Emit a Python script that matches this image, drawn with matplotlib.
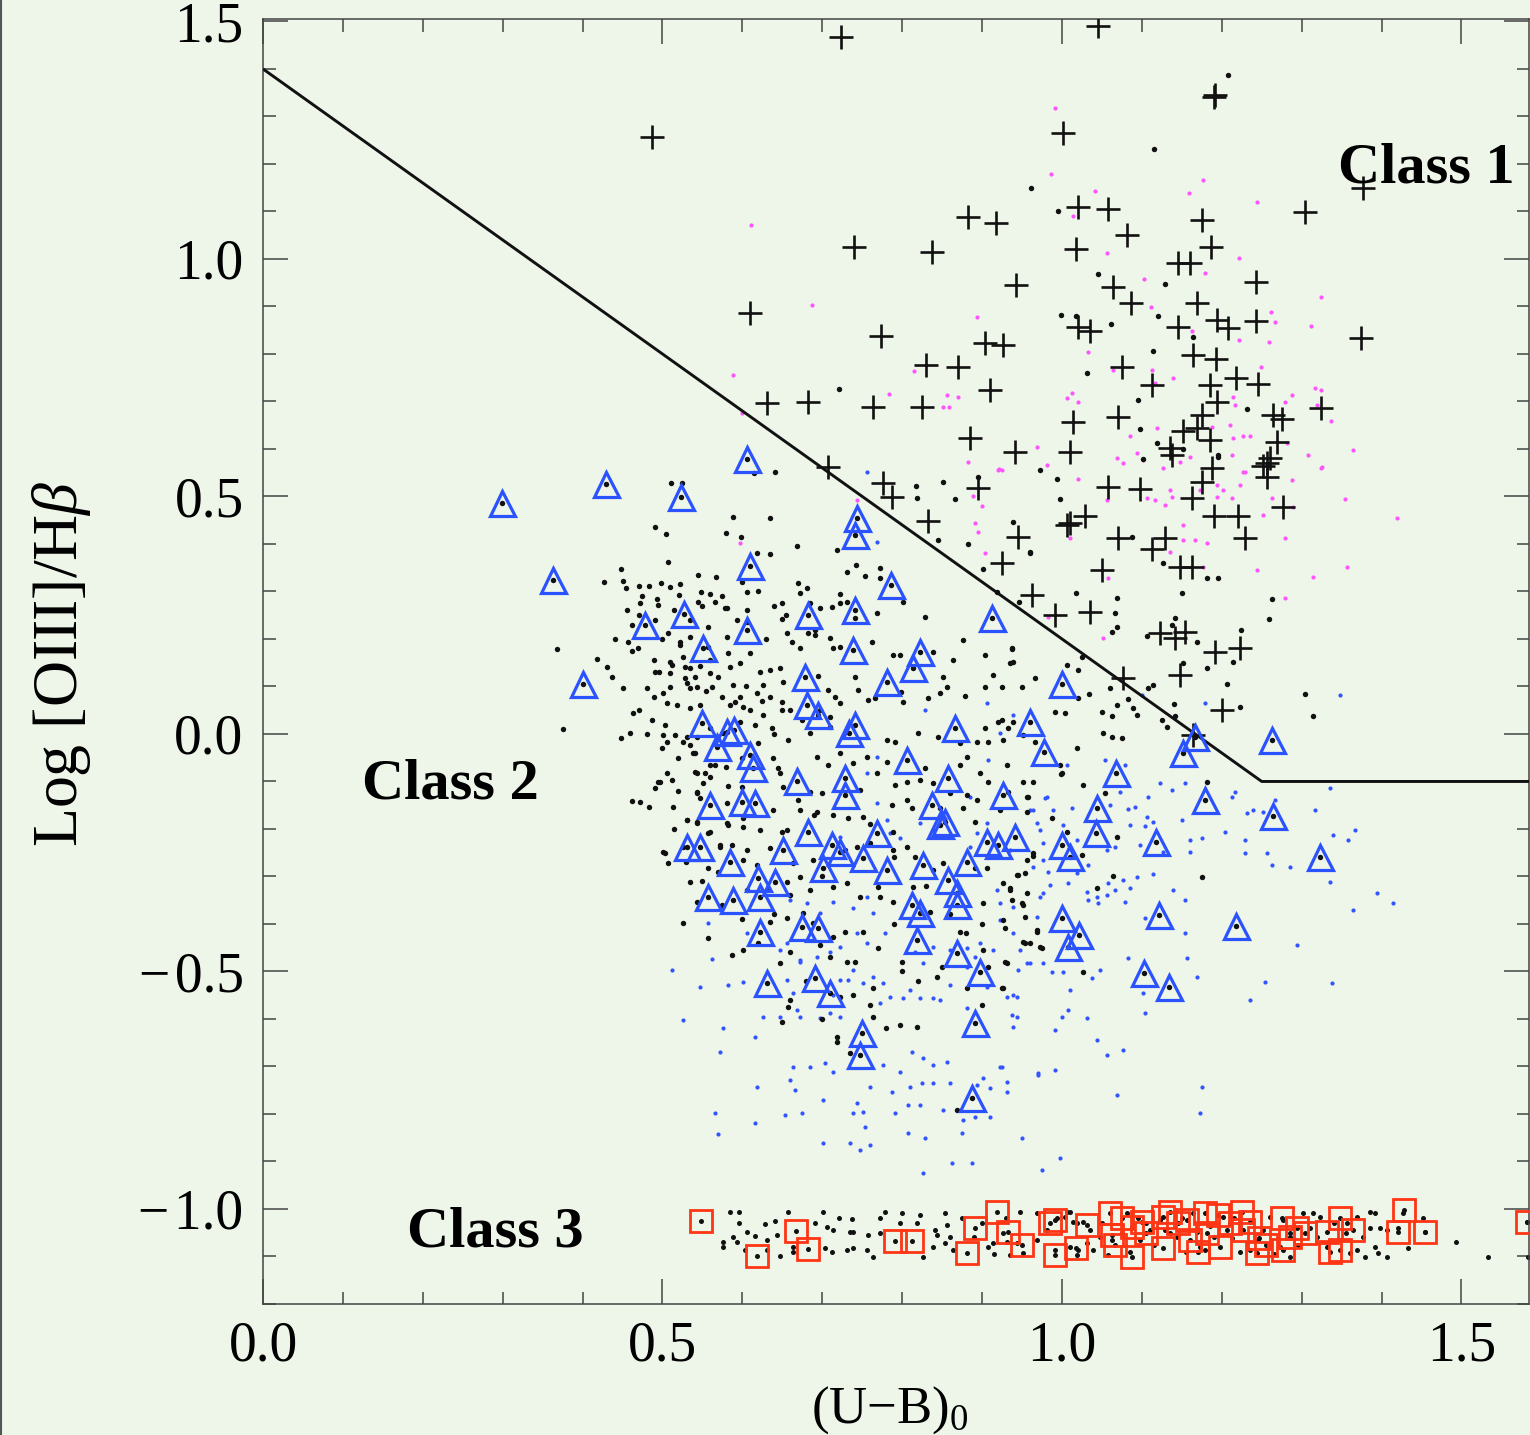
import matplotlib
matplotlib.use('Agg')
import matplotlib.pyplot as plt
from matplotlib.lines import Line2D
from matplotlib.ticker import MultipleLocator

# ---------------- data ----------------
boundary_x = [0.0, 1.25, 1.60]
boundary_y = [1.40, -0.10, -0.10]

# Class 1 : crosses
cross_x = [0.487,0.723,1.045,1.190,1.192,1.001,1.377,1.304,1.020,1.058,0.882,0.917,1.081,1.175,1.018,1.187,1.145,1.160,
           1.243,0.942,1.064,1.086,1.169,1.194,1.208,1.243,1.020,1.035,1.145,0.904,0.926,1.164,1.193,0.870,1.075,1.113,
           1.218,1.245,1.185,1.194,0.910,1.324,1.014,1.070,1.175,1.264,1.275,0.885,0.941,1.010,1.151,1.169,1.135,1.185,
           1.269,1.257,1.252,1.188,1.138,1.257,1.175,1.058,1.098,1.163,1.277,1.029,1.006,1.010,1.190,1.220,1.229,0.945,
           1.070,1.129,1.113,1.050,1.148,1.163,0.925,0.962,0.991,1.035,1.123,1.141,1.154,1.191,1.223,1.148,1.076,1.200,
           1.164,0.740,0.837,0.610,0.773,0.830,0.631,0.682,0.763,0.825,0.707,0.776,0.787,0.895,0.832,1.374,1.260]
cross_y = [1.257,1.467,1.490,1.340,1.345,1.265,1.149,1.099,1.110,1.105,1.088,1.076,1.050,1.082,1.021,1.025,0.992,0.992,
           0.952,0.945,0.941,0.907,0.907,0.872,0.855,0.869,0.857,0.848,0.857,0.823,0.819,0.798,0.789,0.773,0.773,0.735,
           0.749,0.737,0.735,0.699,0.724,0.686,0.657,0.667,0.672,0.672,0.663,0.623,0.594,0.594,0.638,0.644,0.602,0.619,
           0.615,0.571,0.565,0.560,0.587,0.541,0.531,0.520,0.516,0.497,0.478,0.459,0.440,0.445,0.459,0.459,0.413,0.415,
           0.413,0.413,0.390,0.345,0.352,0.352,0.360,0.293,0.250,0.257,0.213,0.202,0.215,0.173,0.181,0.124,0.118,0.050,
           -0.002,1.025,1.015,0.886,0.838,0.777,0.697,0.699,0.688,0.688,0.562,0.529,0.499,0.518,0.448,0.834,0.580]

# Class 2 : triangles
tri_x = [0.299,0.363,0.429,0.401,0.523,0.606,0.478,0.527,0.551,0.610,0.606,0.682,0.743,0.741,0.786,0.741,0.739,0.822,
         0.814,0.781,0.912,1.000,1.263,1.166,1.151,0.960,0.977,0.866,1.068,1.179,1.264,1.323,1.218,
         0.549,0.581,0.590,0.568,0.559,0.600,0.531,0.547,0.584,0.557,0.588,
         0.610,0.613,0.668,0.728,0.728,0.806,0.857,0.926,0.616,0.837,0.847,0.854,0.682,0.768,0.906,0.920,0.941,0.651,
         0.712,0.722,0.751,0.701,0.781,0.826,0.881,0.857,0.869,0.869,0.620,0.641,0.622,0.812,0.822,0.818,0.869,0.622,
         0.675,0.695,0.897,0.631,0.691,0.710,0.891,0.750,0.747,0.887,
         1.044,1.000,1.010,1.043,1.118,1.000,1.021,1.008,1.121,1.103,1.134,
         0.678,0.681,0.695,0.741,0.733]
tri_y = [0.486,0.324,0.526,0.105,0.499,0.579,0.229,0.253,0.181,0.354,0.219,0.251,0.455,0.419,0.314,0.261,0.177,0.173,
         0.139,0.109,0.244,0.105,-0.013,-0.006,-0.040,0.025,-0.038,0.013,-0.082,-0.139,-0.173,-0.259,-0.404,
         0.023,0.004,0.008,-0.027,-0.149,-0.143,-0.238,-0.238,-0.270,-0.343,-0.349,
         -0.044,-0.072,-0.100,-0.093,-0.128,-0.055,-0.093,-0.128,-0.145,-0.149,-0.192,-0.185,-0.206,-0.209,-0.227,-0.234,-0.217,-0.244,
         -0.234,-0.248,-0.261,-0.282,-0.286,-0.276,-0.269,-0.307,-0.335,-0.360,-0.303,-0.311,-0.343,-0.360,-0.377,-0.434,-0.461,-0.417,
         -0.406,-0.409,-0.501,-0.525,-0.514,-0.546,-0.609,-0.630,-0.676,-0.767,
         -0.156,-0.234,-0.259,-0.209,-0.227,-0.388,-0.423,-0.448,-0.381,-0.504,-0.532,
         0.120,0.061,0.040,0.019,0.002]

# Class 3 : squares
sq_x = [0.548,0.618,0.667,0.682,0.791,0.812,0.881,0.891,0.919,0.932,0.950,0.985,0.991,0.991,1.018,1.031,1.060,1.063,
        1.066,1.088,1.088,1.100,1.127,1.127,1.135,1.156,1.160,1.179,1.181,1.195,1.198,1.225,1.227,1.235,1.244,1.246,
        1.275,1.277,1.294,1.304,1.332,1.335,1.348,1.348,1.364,1.428,1.420,1.454,1.582,
        1.075,1.105,1.145,1.170,1.210,1.255,1.285]
sq_y = [-1.025,-1.099,-1.046,-1.084,-1.067,-1.067,-1.093,-1.040,-1.006,-1.048,-1.076,-1.029,-1.097,-1.023,-1.082,-1.034,-1.008,-1.055,
        -1.076,-1.101,-1.038,-1.027,-1.017,-1.082,-1.006,-1.023,-1.065,-1.008,-1.051,-1.013,-1.080,-1.006,-1.044,-1.027,-1.093,-1.061,
        -1.019,-1.086,-1.040,-1.051,-1.048,-1.091,-1.019,-1.086,-1.044,-1.002,-1.048,-1.048,-1.027,
        -1.020,-1.050,-1.030,-1.090,-1.030,-1.075,-1.060]

# small black points (main sample)
blk_x = [0.511,0.524,0.588,0.491,0.504,0.579,0.507,0.448,0.427,0.451,0.454,0.471,0.483,0.498,0.509,0.522,0.544,0.567,
         0.474,0.493,0.521,0.548,0.559,0.472,0.494,0.544,0.566,0.578,0.462,0.507,0.522,0.534,0.557,0.581,0.457,0.469,
         0.462,0.368,0.418,0.489,0.509,0.526,0.534,0.547,0.559,0.582,0.597,0.496,0.509,0.528,0.541,0.437,0.451,0.481,
         0.489,0.501,0.509,0.534,0.543,0.562,0.506,0.518,0.534,0.547,0.574,0.591,0.601,0.463,0.487,0.503,0.501,0.516,
         0.526,0.534,0.375,0.448,0.459,0.506,0.543,0.541,0.559,0.541,0.553,0.506,0.497,0.512,0.491,0.462,0.472,0.483,
         0.513,0.543,0.547,0.581,0.531,0.543,0.582,0.557,0.503,0.507,0.526,0.572,0.587,0.534,0.569,0.526,0.543,
         0.615,0.641,0.635,0.598,0.668,0.718,0.742,0.731,0.753,0.772,0.618,0.635,0.670,0.681,0.722,0.772,0.801,0.829,
         0.851,0.817,0.819,0.866,0.845,0.882,0.960,0.901,0.919,0.946,0.768,0.650,0.691,0.710,0.722,0.762,0.876,0.904,
         0.937,0.935,0.966,0.914,0.904,0.925,0.950,0.856,0.851,0.864,0.788,0.797,0.839,0.798,0.801,0.766,0.757,0.745,
         0.741,0.695,0.672,0.713,0.847,0.879,0.832,0.904,0.920,0.932,0.872,0.894,0.907,0.845,0.820,0.791,0.781,0.966,
         0.951,0.939,0.926,0.522,0.557,0.622,0.635,0.647,0.651,0.626,0.618,0.635,0.650,0.650,0.626,0.610,0.597,0.616,
         0.637,0.657,0.576,0.559,0.531,0.597,0.588,0.559,0.531,0.528,0.512,0.707,0.716,0.722,0.697,0.710,0.710,0.685,
         0.656,0.662,0.682,0.691,0.672,0.650,0.685,0.697,0.712,0.606,0.606,0.606,0.581,0.593,0.722,0.741,0.731,
         0.538,0.566,0.638,0.645,0.693,0.707,0.722,0.738,0.756,0.781,0.829,0.872,0.881,0.897,0.931,0.951,0.964,0.494,
         0.543,0.551,0.543,0.582,0.600,0.647,0.651,0.685,0.700,0.747,0.768,0.791,0.806,0.822,0.839,0.860,0.881,0.907,
         0.932,0.956,0.531,0.543,0.559,0.581,0.601,0.601,0.622,0.638,0.650,0.672,0.693,0.713,0.732,0.751,0.787,0.806,
         0.812,0.847,0.876,0.891,0.894,0.922,0.956,0.501,0.557,0.572,0.606,0.601,0.618,0.635,0.656,0.663,0.672,0.688,
         0.728,0.743,0.760,0.788,0.806,0.816,0.788,0.839,0.851,0.891,0.906,0.926,0.956,0.964,0.944,0.606,0.631,0.656,
         0.685,0.713,0.731,0.747,0.770,0.772,0.788,0.814,0.835,0.901,0.935,0.951,0.969,0.972,0.954,0.557,0.587,0.601,
         0.635,0.656,0.676,0.688,0.713,0.728,0.751,0.697,0.731,0.741,0.800,0.844,0.872,0.881,0.907,0.929,0.901,0.926,
         0.660,0.647,0.657,0.650,0.722,0.738,0.763,0.763,0.797,0.819,0.900,0.718,0.718,0.735,0.869,
         0.997,0.999,1.026,1.054,0.957,0.987,1.006,1.025,0.964,1.069,1.064,1.044,0.945,0.954,0.935,0.956,0.937,0.950,
         0.954,0.926,0.929,0.969,0.951,0.960,0.975,0.931,0.925,1.026,1.181,1.175,
         0.972,0.994,0.997,1.101,1.195,1.119,0.939,0.960,1.018,1.069,1.066,1.069,1.063,1.150,1.181,1.195,1.126,1.088,
         1.263,1.259,1.224,1.169,1.106,1.138,1.141,1.214,1.151,1.181,1.206,1.223,1.304,1.314,0.937,0.939,1.006,1.020,
         1.025,1.034,1.020,0.991,1.004,1.050,1.063,1.069,1.083,1.089,1.094,1.060,1.108,1.114,1.140,1.141,1.125,1.131,
         1.051,1.063,1.075,1.019,1.000,0.925,
         1.115,0.961,0.995,1.045,1.129,0.999,1.018,1.061,1.120,1.164,1.114,1.031,1.095,1.232,1.098,1.151,1.195,0.895,
         0.721,1.208,
         0.470,0.490,0.515,0.535,0.550,0.575,0.600,0.620,0.640,0.655,0.630,0.610,0.585,0.570,0.555,0.585,0.605,0.625,
         0.660,0.675,0.640,0.620,0.600,0.580,0.560,0.520,0.500,0.480,0.470,0.490,0.500,0.455,0.440,0.430,0.520,0.515,
         0.530,0.550,0.575,0.600,0.620,0.640,0.660,0.700,0.690,0.670,0.760,0.790,0.830,0.860,0.880,0.900,0.790,0.770,
         0.800,0.820,0.850,0.710,0.680,0.660,0.700,0.760,0.780]
blk_y = [0.528,0.528,0.457,0.436,0.421,0.423,0.362,0.347,0.320,0.322,0.307,0.312,0.312,0.318,0.309,0.316,0.335,0.331,
         0.291,0.284,0.293,0.299,0.295,0.276,0.272,0.278,0.278,0.265,0.229,0.213,0.194,0.204,0.225,0.204,0.194,0.181,
         0.175,0.179,0.158,0.156,0.152,0.162,0.139,0.143,0.156,0.171,0.149,0.131,0.128,0.118,0.120,0.120,0.097,0.097,
         0.078,0.086,0.099,0.097,0.099,0.099,0.065,0.061,0.055,0.061,0.078,0.067,0.057,0.044,0.029,0.019,-0.002,-0.002,
         -0.017,-0.023,0.011,-0.008,0.002,-0.017,-0.006,-0.040,-0.065,-0.080,-0.082,-0.082,-0.101,-0.097,-0.114,-0.141,-0.143,-0.154,
         -0.154,-0.122,-0.135,-0.145,-0.181,-0.187,-0.192,-0.208,-0.251,-0.272,-0.238,-0.234,-0.234,-0.312,-0.291,-0.398,-0.354,
         0.549,0.552,0.455,0.415,0.396,0.387,0.356,0.341,0.333,0.349,0.381,0.379,0.318,0.307,0.295,0.328,0.278,0.246,
         0.531,0.522,0.497,0.495,0.408,0.400,0.381,0.347,0.299,0.278,0.255,0.242,0.208,0.202,0.183,0.194,0.198,0.166,
         0.179,0.149,0.118,0.124,0.099,0.099,0.099,0.099,0.120,0.156,0.166,0.166,0.173,0.088,0.067,0.076,0.072,0.093,
         0.120,0.122,0.181,0.181,0.086,0.080,0.076,0.013,0.025,0.013,-0.019,-0.017,-0.017,-0.006,0.002,-0.017,-0.013,-0.017,
         -0.002,0.025,-0.013,0.187,0.183,0.131,0.135,0.139,0.109,0.103,0.086,0.078,0.067,0.051,0.040,0.051,0.025,0.019,
         0.013,-0.013,0.002,0.013,-0.006,0.078,0.103,0.128,0.107,0.141,0.145,0.093,0.078,0.065,0.051,0.036,0.015,0.002,
         0.213,0.194,0.213,0.219,0.297,0.276,0.276,0.265,0.267,0.299,0.261,0.236,0.265,0.240,0.276,0.244,0.278,
         -0.040,-0.065,-0.051,-0.072,-0.048,-0.065,-0.040,-0.061,-0.048,-0.059,-0.072,-0.065,-0.048,-0.082,-0.065,-0.101,-0.101,-0.101,
         -0.082,-0.103,-0.124,-0.109,-0.112,-0.082,-0.112,-0.122,-0.124,-0.118,-0.082,-0.107,-0.101,-0.097,-0.103,-0.124,-0.128,-0.101,
         -0.122,-0.133,-0.181,-0.185,-0.206,-0.187,-0.177,-0.196,-0.202,-0.160,-0.206,-0.160,-0.164,-0.171,-0.177,-0.175,-0.149,-0.139,
         -0.156,-0.156,-0.156,-0.185,-0.139,-0.160,-0.164,-0.248,-0.282,-0.238,-0.244,-0.265,-0.276,-0.240,-0.202,-0.272,-0.301,-0.265,
         -0.244,-0.238,-0.229,-0.206,-0.238,-0.259,-0.244,-0.286,-0.272,-0.282,-0.282,-0.314,-0.265,-0.251,-0.297,-0.328,-0.328,-0.312,
         -0.328,-0.322,-0.314,-0.343,-0.322,-0.343,-0.354,-0.322,-0.375,-0.356,-0.328,-0.360,-0.413,-0.448,-0.440,-0.429,-0.465,-0.455,
         -0.396,-0.387,-0.377,-0.398,-0.427,-0.417,-0.417,-0.444,-0.480,-0.480,-0.480,-0.512,-0.417,-0.535,-0.491,-0.480,-0.455,-0.535,
         -0.459,-0.482,-0.575,-0.606,-0.554,-0.549,-0.535,-0.596,-0.613,-0.617,-0.571,-0.638,-0.648,-0.672,-0.792,
         -0.065,-0.084,-0.107,-0.124,-0.133,-0.177,-0.206,-0.255,-0.257,-0.217,-0.299,-0.324,-0.297,-0.293,-0.324,-0.335,-0.349,-0.356,
         -0.385,-0.392,-0.408,-0.417,-0.438,-0.440,-0.451,-0.482,-0.535,-0.501,-0.101,-0.301,
         0.556,0.537,0.495,0.579,0.587,0.613,0.446,0.383,0.297,0.286,0.255,0.225,0.215,0.297,0.328,0.328,0.360,0.415,
         0.284,0.242,0.219,0.194,0.206,0.229,0.244,0.152,0.149,0.139,0.105,0.057,0.084,0.038,0.181,0.152,0.145,0.135,
         0.162,0.084,0.076,0.046,0.044,0.046,0.038,0.061,0.074,0.055,0.040,0.097,0.097,0.103,0.063,0.038,0.029,0.015,
         0.002,-0.006,-0.008,-0.029,-0.082,0.029,
         1.232,1.149,1.101,0.968,0.947,0.882,0.880,0.863,0.880,0.836,0.806,0.760,0.703,0.684,0.642,0.600,0.583,0.541,
         0.726,1.387,
         0.250,0.240,0.260,0.240,0.270,0.290,0.320,0.300,0.270,0.250,0.200,0.170,0.140,0.120,0.090,0.060,0.100,0.070,
         0.050,0.030,0.000,-0.020,-0.050,-0.070,-0.090,-0.050,-0.030,0.000,0.050,0.130,0.200,0.260,0.200,0.140,-0.120,-0.200,
         -0.270,-0.310,-0.360,-0.390,-0.440,-0.380,-0.340,-0.300,-0.170,-0.140,-0.190,-0.260,-0.320,-0.380,-0.420,-0.400,-0.400,-0.450,
         -0.500,-0.520,-0.490,-0.470,-0.520,-0.560,-0.600,-0.570,-0.620]

# small blue points
blu_x = [0.512,0.526,0.547,0.562,0.557,0.582,0.601,0.606,0.618,0.616,0.572,0.576,0.566,0.569,0.616,0.626,0.647,0.656,
         0.663,0.668,0.672,0.647,0.656,0.672,0.697,0.710,0.722,0.713,0.722,0.732,0.738,0.751,0.763,0.776,0.785,0.772,
         0.801,0.810,0.822,0.839,0.847,0.860,0.881,0.906,0.931,0.944,0.944,0.939,0.663,0.685,0.703,0.713,0.660,0.666,
         0.701,0.743,0.751,0.738,0.653,0.675,0.753,0.701,0.735,0.760,0.747,0.760,0.787,0.810,0.825,0.839,0.860,0.894,
         0.910,0.931,0.776,0.797,0.812,0.826,0.839,0.856,0.901,0.922,0.970,0.791,0.807,0.822,0.851,0.876,0.891,0.910,
         0.807,0.829,0.875,0.950,0.826,0.862,0.887,0.975,
         0.881,0.891,0.914,0.897,0.881,0.860,0.839,0.826,0.816,0.922,0.939,0.947,0.956,0.969,0.976,0.964,0.976,0.964,
         0.939,0.922,0.919,0.935,0.885,0.894,0.906,0.797,0.785,0.781,0.768,0.768,0.756,0.907,0.981,0.885,0.822,0.839,
         0.722,0.738,0.756,0.713,0.697,0.681,0.660,0.738,0.763,0.778,0.756,0.743,0.722,0.710,0.693,0.672,
         1.054,1.079,1.006,0.979,0.960,0.989,1.013,0.969,0.972,1.001,1.019,1.060,1.083,1.091,1.073,1.108,1.123,1.138,
         1.154,1.150,1.106,1.114,1.104,1.085,1.098,1.126,1.160,1.160,1.175,1.204,1.213,1.217,1.232,1.239,1.252,1.267,
         1.229,1.229,1.257,1.263,1.285,1.317,1.335,1.339,1.358,1.367,1.335,1.394,1.414,1.364,1.294,1.338,1.254,1.235,
         1.169,1.156,1.154,1.104,1.083,1.101,1.104,1.139,1.154,1.114,1.094,1.085,1.076,1.066,1.056,1.044,1.031,1.045,
         1.033,1.079,1.058,1.019,1.008,0.985,0.972,0.976,0.982,1.033,1.056,1.066,1.048,1.038,1.010,0.987,1.001,0.960,
         0.976,0.945,0.939,0.937,1.000,1.008,1.031,0.991,1.044,1.056,1.076,0.925,0.970,0.991,0.931,1.069,1.175,1.173,
         0.997,0.756,0.768,0.906,0.829,0.939,0.922,1.348,1.179,1.100]
blu_y = [-0.497,-0.602,-0.533,-0.474,-0.398,-0.528,-0.522,-0.419,-0.743,-0.819,-0.669,-0.619,-0.798,-0.842,-0.638,-0.596,-0.596,-0.518,
         -0.545,-0.581,-0.596,-0.455,-0.440,-0.480,-0.598,-0.587,-0.596,-0.549,-0.518,-0.518,-0.497,-0.524,-0.512,-0.524,-0.554,-0.566,
         -0.556,-0.539,-0.556,-0.556,-0.561,-0.528,-0.577,-0.533,-0.554,-0.554,-0.596,-0.617,-0.701,-0.701,-0.693,-0.712,-0.728,-0.749,
         -0.771,-0.777,-0.796,-0.798,-0.802,-0.798,-0.827,-0.861,-0.861,-0.865,-0.876,-0.743,-0.754,-0.743,-0.735,-0.735,-0.735,-0.739,
         -0.745,-0.733,-0.697,-0.712,-0.669,-0.682,-0.697,-0.691,-0.724,-0.701,-0.714,-0.798,-0.781,-0.781,-0.792,-0.813,-0.806,-0.806,
         -0.840,-0.851,-0.840,-0.851,-0.924,-0.903,-0.903,-0.918,
         -0.491,-0.469,-0.455,-0.440,-0.451,-0.455,-0.448,-0.482,-0.459,-0.392,-0.419,-0.455,-0.482,-0.385,-0.335,-0.280,-0.229,-0.160,
         -0.364,-0.356,-0.328,-0.244,-0.238,-0.208,-0.187,-0.219,-0.208,-0.181,-0.145,-0.048,-0.082,-0.055,-0.133,-0.133,-0.187,-0.202,
         -0.217,-0.276,-0.343,-0.354,-0.377,-0.356,-0.349,-0.366,-0.377,-0.419,-0.440,-0.419,-0.448,-0.459,-0.469,-0.476,
         -0.055,-0.065,-0.065,-0.135,-0.160,-0.160,-0.156,-0.187,-0.202,-0.192,-0.223,-0.149,-0.158,-0.154,-0.122,-0.133,-0.103,-0.118,
         -0.103,-0.181,-0.175,-0.185,-0.194,-0.192,-0.234,-0.248,-0.223,-0.248,-0.219,-0.206,-0.133,-0.122,-0.166,-0.160,-0.164,-0.139,
         -0.223,-0.251,-0.251,-0.276,-0.280,-0.160,-0.114,-0.213,-0.223,-0.202,-0.312,-0.335,-0.356,-0.371,-0.444,-0.524,-0.522,-0.560,
         -0.512,-0.472,-0.419,-0.387,-0.472,-0.545,-0.587,-0.328,-0.349,-0.295,-0.301,-0.324,-0.307,-0.328,-0.339,-0.343,-0.333,-0.356,
         -0.349,-0.354,-0.314,-0.293,-0.314,-0.318,-0.343,-0.265,-0.291,-0.276,-0.244,-0.238,-0.497,-0.514,-0.539,-0.501,-0.501,-0.482,
         -0.482,-0.497,-0.549,-0.592,-0.596,-0.581,-0.598,-0.623,-0.644,-0.676,-0.665,-0.701,-0.718,-0.707,-0.754,-0.760,-0.743,-0.798,
         -0.893,0.552,0.404,0.065,0.051,0.040,0.002,0.082,0.065,0.082]

# small magenta points
mag_x = [0.991,0.986,1.041,1.176,1.159,1.244,1.014,1.056,1.222,1.103,1.179,1.324,0.894,1.111,1.262,1.267,1.312,1.163,
         1.222,1.259,1.033,1.249,1.113,1.139,1.064,1.116,0.870,1.013,1.006,1.020,1.214,1.217,1.288,1.279,1.317,1.324,
         1.319,1.337,1.210,1.188,1.085,1.119,1.227,1.235,1.214,1.282,0.969,0.882,0.981,0.921,1.069,1.076,1.094,1.101,
         1.160,1.213,1.308,1.324,1.126,1.227,
         1.020,1.056,1.106,1.116,1.129,1.138,1.135,1.148,1.173,1.194,1.202,1.213,1.223,1.194,1.229,1.252,1.263,1.279,
         1.289,1.288,1.325,1.364,1.354,1.419,1.357,1.314,1.279,1.244,1.151,1.151,1.166,1.181,1.135,1.176,1.058,1.010,
         0.982,1.051,0.925,
         0.611,0.687,0.588,0.815,0.783,0.856,0.851,0.859,0.600,0.920,0.889,0.900,0.891,0.895,0.904,0.743,0.597]
mag_y = [1.318,1.179,1.143,1.166,1.139,1.120,1.091,1.013,1.002,0.958,0.971,0.920,0.878,0.899,0.888,0.867,0.859,0.848,
         0.829,0.825,0.804,0.773,0.766,0.749,0.766,0.739,0.709,0.718,0.707,0.699,0.709,0.693,0.714,0.699,0.728,0.724,
         0.693,0.659,0.651,0.646,0.627,0.644,0.627,0.627,0.623,0.613,0.604,0.573,0.566,0.558,0.581,0.571,0.592,0.577,
         0.583,0.587,0.587,0.560,0.560,0.552,
         0.537,0.493,0.497,0.493,0.482,0.499,0.514,0.573,0.514,0.524,0.514,0.497,0.524,0.499,0.552,0.461,0.497,0.413,
         0.478,0.535,0.562,0.598,0.495,0.455,0.352,0.331,0.286,0.345,0.440,0.408,0.408,0.402,0.383,0.352,0.328,0.413,
         0.246,0.202,0.556,
         1.072,0.903,0.756,0.764,0.716,0.714,0.688,0.688,0.676,0.556,0.501,0.480,0.444,0.425,0.381,0.493,0.402]

# small black points of the Class 3 strip
c3_x = [0.584,0.596,0.596,0.628,0.641,0.657,0.701,0.721,0.737,0.691,0.706,0.735,0.778,0.800,0.822,0.854,0.772,0.797,
        0.819,0.856,0.947,0.969,1.006,0.588,0.606,0.616,0.631,0.643,0.593,0.576,0.576,0.603,0.631,0.647,0.663,0.663,
        0.703,0.712,0.731,0.738,0.756,0.763,0.713,0.738,0.757,0.772,0.826,0.839,0.844,0.841,0.860,0.854,0.864,0.907,
        0.914,0.926,0.931,0.944,0.935,0.951,0.969,0.981,1.010,1.019,1.019,
        1.010,1.014,1.026,1.035,1.039,1.048,1.031,1.058,1.081,1.095,1.098,1.110,1.123,1.129,1.144,1.164,1.169,1.173,
        1.179,1.201,1.206,1.213,1.223,1.235,1.252,1.260,1.277,1.285,1.273,1.285,1.302,1.314,1.323,1.319,1.332,1.348,
        1.360,1.357,1.369,1.385,1.392,1.385,1.398,1.377,1.369,1.379,1.392,1.395,1.407,1.407,1.427,1.420,1.433,1.452,
        1.454,1.493,1.533,1.583,1.582,0.994,1.004,0.991,1.020,
        1.050,1.062,1.075,1.085,1.105,1.115,1.135,1.150,1.155,1.185,1.190,1.215,1.245,1.265,1.295,1.310,1.340,1.355,
        0.875,0.890,0.900,0.915,0.930]
c3_y = [-1.006,-1.006,-1.029,-1.032,-1.025,-1.006,-1.006,-1.019,-1.021,-1.029,-1.038,-1.048,-1.006,-1.008,-1.013,-1.008,-1.019,-1.029,
        -1.029,-1.034,-1.006,-1.008,-1.006,-1.059,-1.048,-1.057,-1.065,-1.055,-1.069,-1.069,-1.080,-1.086,-1.086,-1.099,-1.080,-1.091,
        -1.082,-1.091,-1.086,-1.082,-1.086,-1.101,-1.044,-1.048,-1.055,-1.051,-1.101,-1.080,-1.055,-1.044,-1.059,-1.072,-1.086,-1.080,
        -1.072,-1.051,-1.069,-1.072,-1.097,-1.093,-1.065,-1.044,-1.080,-1.097,-1.029,
        -1.006,-1.027,-1.027,-1.044,-1.086,-1.059,-1.072,-1.097,-1.008,-1.019,-1.065,-1.044,-1.023,-1.044,-1.059,-1.008,-1.048,-1.080,
        -1.086,-1.017,-1.044,-1.061,-1.091,-1.086,-1.044,-1.017,-1.023,-1.051,-1.080,-1.101,-1.008,-1.008,-1.017,-1.059,-1.080,-1.065,
        -1.093,-1.029,-1.017,-1.006,-1.008,-1.040,-1.040,-1.059,-1.086,-1.101,-1.080,-1.093,-1.101,-1.044,-1.008,-1.040,-1.082,-1.019,
        -1.048,-1.069,-1.101,-1.101,-1.027,-1.019,-1.017,-1.086,-1.086,
        -1.030,-1.065,-1.050,-1.090,-1.030,-1.075,-1.050,-1.020,-1.090,-1.035,-1.060,-1.020,-1.065,-1.095,-1.075,-1.040,-1.030,-1.050,
        -1.020,-1.060,-1.030,-1.095,-1.020]

class_labels = ['Class 1', 'Class 2', 'Class 3']
class_label_x = [1.345, 0.124, 0.180]
class_label_y = [1.162, -0.135, -1.080]

x_ticks = [0.0, 0.5, 1.0, 1.5]
y_ticks = [-1.0, -0.5, 0.0, 0.5, 1.0, 1.5]

# ---------------- styling ----------------
BG = '#EEF5E9'
SERIF = ['Liberation Serif', 'DejaVu Serif']
plt.rcParams['font.family'] = SERIF
plt.rcParams['mathtext.fontset'] = 'custom'
plt.rcParams['mathtext.rm'] = 'Liberation Serif'
plt.rcParams['mathtext.it'] = 'Liberation Serif:italic'

fig = plt.figure(figsize=(15.30, 14.35), dpi=100)
fig.patch.set_facecolor(BG)
ax = fig.add_axes([0.1719, 0.0913, 0.8277, 0.8954])
ax.set_facecolor(BG)
ax.set_xlim(0, 1.585)
ax.set_ylim(-1.2, 1.505)

# boundary
ax.plot(boundary_x, boundary_y, color='#111111', lw=2.1, zorder=3, solid_capstyle='butt')

# small points
ax.plot(blu_x, blu_y, ls='none', marker='o', ms=3.0, mew=0, color='#3355FF', zorder=2)
ax.plot(mag_x, mag_y, ls='none', marker='o', ms=3.0, mew=0, color='#FF55FF', zorder=2)
ax.plot(blk_x, blk_y, ls='none', marker='o', ms=3.9, mew=0, color='#111111', zorder=2)
ax.plot(c3_x, c3_y, ls='none', marker='o', ms=3.6, mew=0, color='#111111', zorder=2)
ax.plot(tri_x, tri_y, ls='none', marker='o', ms=3.9, mew=0, color='#111111', zorder=2)
ax.plot(sq_x, sq_y, ls='none', marker='o', ms=3.6, mew=0, color='#111111', zorder=2)

# class markers
ax.plot(cross_x, cross_y, ls='none', marker='+', ms=17, mew=1.9, color='#111111', zorder=4)
ax.plot(tri_x, tri_y, ls='none', marker='^', ms=18, mew=2.3, mfc='none', mec='#2A52FF', zorder=4)
ax.plot(sq_x, sq_y, ls='none', marker='s', ms=15.5, mew=2.0, mfc='none', mec='#FF3514', zorder=4)

for lab, lx, ly in zip(class_labels, class_label_x, class_label_y):
    ax.text(lx, ly, lab, fontsize=42, fontweight='bold', family=SERIF,
            ha='left', va='baseline', color='black', zorder=6)

# axes styling
ax.xaxis.set_minor_locator(MultipleLocator(0.1))
ax.yaxis.set_minor_locator(MultipleLocator(0.1))
ax.set_xticks(x_ticks)
ax.set_yticks(y_ticks)
ax.set_xticklabels([f'{v:.1f}' for v in x_ticks])
ax.set_yticklabels([f'{v:.1f}'.replace('-', '\u2212\u200a') for v in y_ticks])
ax.tick_params(which='both', direction='in', top=True, right=True, color='#444444', width=1.1)
ax.tick_params(which='major', length=18)
ax.tick_params(which='minor', length=9)
ax.tick_params(axis='x', which='major', pad=12, labelsize=40)
ax.tick_params(axis='y', which='major', pad=14, labelsize=40)
for sp in ax.spines.values():
    sp.set_color('#444444')
    sp.set_linewidth(1.1)

fig.text(62/1530, 1-664/1435, r'Log [OIII]/H$\beta$', rotation=90, ha='center', va='center', fontsize=46)
fig.text(890/1530, 1-1410/1435, '(U\u2212B)$_0$', ha='center', va='center', fontsize=38)

fig.add_artist(Line2D([0.0008, 0.0008], [0, 1], color='#555555', lw=1.5))

fig.savefig('out.png', dpi=100, facecolor=BG)
